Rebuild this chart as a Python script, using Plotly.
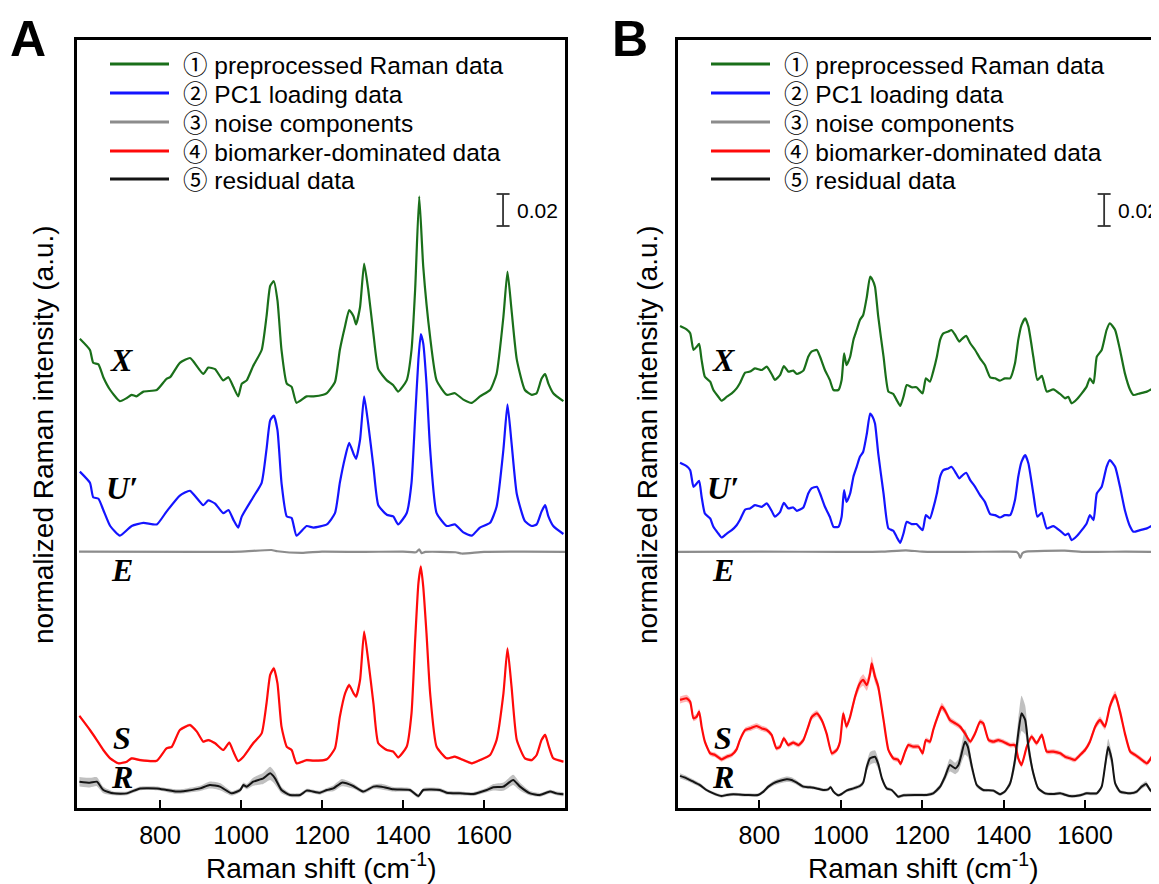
import numpy as np
import plotly.graph_objects as go

# ---------------- Panel A data ----------------
wn_X_A = [602,627,635,648,660,677,701,718,730,742,759,792,816,825,849,874,882,907,919,936,
          956,969,981,993,1002,1014,1030,1051,1063,1072,1081,1090,1100,1113,1125,1137,1162,1179,1203,1212,
          1232,1244,1257,1267,1278,1284,1294,1304,1314,1327,1339,1360,1376,1388,1409,1421,1430,1440,1450,1467,
          1483,1508,1528,1549,1570,1590,1615,1631,1648,1658,1668,1681,1701,1718,1730,1742,1751,1759,1771,1796]
X_A = [0.292,0.285,0.277,0.276,0.268,0.260,0.253,0.255,0.257,0.256,0.259,0.260,0.267,0.268,0.277,0.280,0.278,0.270,0.274,0.273,
       0.266,0.268,0.262,0.256,0.264,0.266,0.275,0.285,0.306,0.325,0.328,0.316,0.285,0.264,0.262,0.252,0.256,0.256,0.257,0.258,
       0.265,0.285,0.300,0.310,0.306,0.301,0.312,0.339,0.323,0.295,0.273,0.266,0.263,0.259,0.266,0.285,0.323,0.381,0.337,0.293,
       0.266,0.257,0.258,0.254,0.252,0.256,0.260,0.270,0.306,0.334,0.310,0.279,0.260,0.257,0.258,0.267,0.270,0.264,0.258,0.253]

wn_U_A = [602,627,635,648,660,677,701,730,759,792,816,849,874,907,919,936,956,969,981,993,
          1002,1030,1051,1063,1072,1081,1090,1100,1113,1125,1137,1162,1179,1212,1232,1244,1257,1267,1278,1284,
          1294,1304,1314,1327,1339,1360,1376,1388,1409,1421,1430,1438,1444,1450,1458,1467,1483,1508,1528,1549,
          1570,1590,1615,1631,1648,1658,1668,1681,1701,1718,1730,1742,1751,1759,1771,1796]
U_A = [0.209,0.202,0.193,0.192,0.185,0.175,0.169,0.175,0.177,0.176,0.184,0.194,0.197,0.188,0.191,0.189,0.183,0.185,0.179,0.174,
       0.181,0.193,0.202,0.223,0.241,0.244,0.235,0.202,0.181,0.180,0.169,0.175,0.174,0.176,0.183,0.202,0.218,0.227,0.220,0.217,
       0.229,0.256,0.239,0.212,0.188,0.182,0.181,0.176,0.183,0.202,0.243,0.279,0.295,0.289,0.264,0.223,0.183,0.175,0.176,0.171,
       0.169,0.174,0.177,0.187,0.223,0.251,0.227,0.195,0.178,0.175,0.176,0.184,0.188,0.181,0.175,0.170]

wn_E_A = [600,900,1000,1075,1090,1150,1200,1300,1400,1432,1440,1446,1455,1530,1545,1600,1700,1800]
E_A = [0.1590,0.1588,0.1590,0.1600,0.1592,0.1582,0.1590,0.1588,0.1590,0.1586,0.1604,0.1580,0.1588,0.1586,0.1578,0.1588,0.1590,0.1588]

wn_S_A = [601,627,644,660,677,697,718,730,751,792,816,829,849,874,891,907,919,936,956,971,
          981,993,1006,1030,1051,1063,1072,1081,1090,1100,1113,1125,1137,1162,1179,1212,1232,1244,1257,1267,
          1278,1284,1294,1304,1314,1327,1339,1360,1376,1388,1409,1421,1430,1438,1444,1450,1458,1467,1483,1508,
          1528,1549,1570,1590,1615,1631,1648,1658,1668,1681,1701,1718,1730,1742,1751,1759,1771,1796]
S_A = [0.0563,0.0475,0.0412,0.0350,0.0298,0.0267,0.0277,0.0298,0.0287,0.0283,0.0360,0.0370,0.0475,0.0506,0.0465,0.0402,0.0412,0.0392,0.0350,0.0396,
       0.0340,0.0281,0.0308,0.0392,0.0454,0.0642,0.0819,0.0860,0.0767,0.0496,0.0370,0.0350,0.0267,0.0287,0.0283,0.0292,0.0360,0.0558,0.0704,0.0756,
       0.0704,0.0683,0.0788,0.1090,0.0913,0.0642,0.0392,0.0350,0.0340,0.0304,0.0370,0.0579,0.1038,0.1392,0.1496,0.1370,0.1079,0.0704,0.0370,0.0298,
       0.0308,0.0287,0.0267,0.0287,0.0319,0.0412,0.0704,0.0985,0.0746,0.0412,0.0298,0.0287,0.0319,0.0412,0.0444,0.0381,0.0298,0.0277]
S_A_sd = [0.0010,0.0009,0.0009,0.0008,0.0008,0.0008,0.0008,0.0008,0.0008,0.0008,0.0008,0.0008,0.0009,0.0009,0.0009,0.0008,0.0008,0.0008,0.0008,0.0008,
          0.0008,0.0008,0.0008,0.0009,0.0010,0.0012,0.0014,0.0014,0.0013,0.0010,0.0008,0.0008,0.0008,0.0008,0.0008,0.0008,0.0008,0.0010,0.0011,0.0012,
          0.0011,0.0011,0.0012,0.0014,0.0013,0.0010,0.0008,0.0008,0.0008,0.0008,0.0008,0.0010,0.0013,0.0015,0.0016,0.0015,0.0013,0.0010,0.0008,0.0008,
          0.0008,0.0008,0.0008,0.0008,0.0008,0.0009,0.0011,0.0013,0.0011,0.0009,0.0008,0.0008,0.0008,0.0009,0.0009,0.0008,0.0008,0.0008]

wn_R_A = [601,627,644,660,685,718,751,792,816,841,866,899,923,948,977,998,1006,1014,1030,1055,
          1072,1084,1100,1121,1146,1162,1195,1212,1228,1249,1277,1302,1327,1347,1376,1417,1438,1450,1491,1508,
          1541,1574,1607,1623,1648,1672,1689,1714,1738,1763,1779,1796]
R_A = [0.0152,0.0146,0.0152,0.0100,0.0079,0.0079,0.0110,0.0110,0.0100,0.0090,0.0096,0.0110,0.0131,0.0121,0.0079,0.0100,0.0131,0.0121,0.0152,0.0173,
       0.0204,0.0173,0.0100,0.0069,0.0069,0.0096,0.0083,0.0100,0.0110,0.0146,0.0125,0.0090,0.0121,0.0121,0.0104,0.0100,0.0062,0.0100,0.0100,0.0083,
       0.0079,0.0075,0.0100,0.0117,0.0121,0.0163,0.0121,0.0079,0.0069,0.0090,0.0079,0.0073]
R_A_sd = [0.0030,0.0030,0.0028,0.0020,0.0012,0.0012,0.0012,0.0012,0.0012,0.0014,0.0014,0.0016,0.0022,0.0022,0.0014,0.0014,0.0016,0.0016,0.0025,0.0035,
          0.0042,0.0038,0.0020,0.0012,0.0012,0.0012,0.0012,0.0012,0.0018,0.0022,0.0016,0.0012,0.0014,0.0018,0.0014,0.0012,0.0012,0.0012,0.0012,0.0012,
          0.0012,0.0012,0.0014,0.0020,0.0026,0.0032,0.0024,0.0014,0.0012,0.0012,0.0012,0.0012]

# ---------------- Panel B data ----------------
wn_X_B = [605,621,630,638,646,652,658,666,679,687,699,707,720,732,744,752,765,777,789,806,
          818,830,838,851,860,871,883,892,908,920,928,941,949,961,973,982,994,1002,1008,1014,
          1023,1031,1039,1047,1055,1064,1072,1078,1084,1092,1105,1117,1129,1137,1146,1154,1162,1174,1186,1201,
          1209,1219,1227,1236,1244,1252,1264,1272,1281,1291,1297,1308,1318,1330,1342,1354,1367,1379,1391,1403,
          1416,1428,1436,1444,1453,1461,1473,1483,1494,1506,1522,1539,1551,1559,1567,1580,1592,1604,1612,1621,
          1629,1641,1653,1661,1674,1686,1698,1711,1719,1735,1752,1768,1780]
X_B = [0.3000,0.2979,0.2954,0.2850,0.2871,0.2888,0.2788,0.2683,0.2652,0.2600,0.2558,0.2533,0.2558,0.2579,0.2610,0.2642,0.2708,0.2715,0.2735,0.2725,
       0.2746,0.2700,0.2663,0.2694,0.2750,0.2715,0.2721,0.2700,0.2721,0.2808,0.2840,0.2850,0.2808,0.2725,0.2663,0.2600,0.2600,0.2663,0.2829,0.2756,
       0.2808,0.2913,0.2975,0.3038,0.3069,0.3183,0.3308,0.3288,0.3246,0.3058,0.2808,0.2590,0.2575,0.2538,0.2500,0.2558,0.2631,0.2617,0.2617,0.2579,
       0.2673,0.2652,0.2715,0.2808,0.2913,0.2954,0.2965,0.2975,0.2944,0.2902,0.2917,0.2938,0.2892,0.2850,0.2798,0.2756,0.2679,0.2673,0.2658,0.2673,
       0.2673,0.2767,0.2913,0.3006,0.3048,0.2996,0.2808,0.2663,0.2688,0.2590,0.2604,0.2575,0.2548,0.2558,0.2517,0.2542,0.2579,0.2621,0.2673,0.2642,
       0.2808,0.2850,0.2975,0.3017,0.2975,0.2850,0.2704,0.2600,0.2569,0.2579,0.2590,0.2610,0.2600]

wn_U_B = wn_X_B
U_B = [0.2145,0.2124,0.2099,0.1995,0.2016,0.2033,0.1933,0.1828,0.1797,0.1745,0.1703,0.1678,0.1703,0.1724,0.1755,0.1787,0.1853,0.1860,0.1880,0.1870,
       0.1891,0.1845,0.1808,0.1839,0.1895,0.1860,0.1866,0.1845,0.1866,0.1953,0.1985,0.1995,0.1953,0.1870,0.1808,0.1745,0.1745,0.1808,0.1974,0.1901,
       0.1953,0.2058,0.2120,0.2183,0.2214,0.2328,0.2453,0.2433,0.2391,0.2203,0.1953,0.1735,0.1720,0.1683,0.1645,0.1703,0.1776,0.1762,0.1762,0.1724,
       0.1818,0.1797,0.1860,0.1953,0.2058,0.2099,0.2110,0.2120,0.2089,0.2047,0.2062,0.2083,0.2037,0.1995,0.1943,0.1901,0.1824,0.1818,0.1803,0.1818,
       0.1818,0.1912,0.2058,0.2151,0.2193,0.2141,0.1953,0.1808,0.1833,0.1735,0.1749,0.1720,0.1693,0.1703,0.1662,0.1687,0.1724,0.1766,0.1818,0.1787,
       0.1953,0.1995,0.2120,0.2162,0.2120,0.1995,0.1849,0.1745,0.1714,0.1724,0.1735,0.1755,0.1745]

wn_E_B = [600,800,1000,1100,1160,1200,1300,1400,1432,1437,1441,1446,1455,1550,1600,1700,1785]
E_B = [0.1588,0.1590,0.1588,0.1590,0.1598,0.1590,0.1588,0.1590,0.1588,0.1575,0.1550,0.1580,0.1590,0.1596,0.1588,0.1590,0.1588]

wn_S_B = [605,621,630,638,646,652,658,666,679,691,707,720,732,744,752,765,777,793,806,818,
          830,842,851,860,871,883,896,908,920,928,941,953,965,978,990,998,1006,1014,1023,1035,
          1047,1055,1064,1072,1076,1084,1092,1105,1117,1129,1141,1147,1158,1166,1178,1191,1201,1209,1219,1227,
          1238,1248,1256,1268,1281,1293,1305,1318,1330,1342,1350,1363,1375,1387,1399,1416,1428,1436,1444,1457,
          1469,1481,1494,1506,1522,1539,1551,1563,1575,1588,1600,1612,1625,1637,1649,1661,1674,1686,1698,1711,
          1723,1735,1752,1764,1772,1780]
S_B = [0.0663,0.0673,0.0652,0.0548,0.0558,0.0590,0.0496,0.0402,0.0329,0.0319,0.0292,0.0308,0.0319,0.0354,0.0412,0.0475,0.0485,0.0500,0.0485,0.0475,
       0.0444,0.0360,0.0371,0.0423,0.0381,0.0396,0.0381,0.0412,0.0496,0.0554,0.0579,0.0538,0.0454,0.0329,0.0350,0.0402,0.0579,0.0496,0.0558,0.0683,
       0.0767,0.0788,0.0756,0.0829,0.0892,0.0808,0.0746,0.0538,0.0350,0.0298,0.0288,0.0263,0.0340,0.0381,0.0371,0.0371,0.0329,0.0412,0.0402,0.0475,
       0.0558,0.0621,0.0596,0.0538,0.0517,0.0496,0.0454,0.0402,0.0454,0.0527,0.0517,0.0412,0.0402,0.0412,0.0402,0.0381,0.0381,0.0298,0.0256,0.0371,
       0.0433,0.0392,0.0444,0.0340,0.0340,0.0329,0.0308,0.0298,0.0288,0.0319,0.0350,0.0402,0.0496,0.0538,0.0496,0.0621,0.0694,0.0590,0.0454,0.0340,
       0.0319,0.0298,0.0267,0.0308,0.0371,0.0340]
S_B_sd = [0.0022,0.0022,0.0020,0.0018,0.0018,0.0018,0.0016,0.0015,0.0015,0.0015,0.0015,0.0015,0.0015,0.0015,0.0015,0.0016,0.0017,0.0017,0.0017,0.0016,
          0.0015,0.0015,0.0015,0.0015,0.0015,0.0015,0.0015,0.0016,0.0018,0.0019,0.0020,0.0018,0.0016,0.0015,0.0015,0.0016,0.0020,0.0018,0.0020,0.0026,
          0.0032,0.0036,0.0036,0.0040,0.0042,0.0038,0.0032,0.0020,0.0016,0.0015,0.0015,0.0015,0.0015,0.0016,0.0015,0.0015,0.0015,0.0016,0.0016,0.0018,
          0.0020,0.0024,0.0022,0.0020,0.0018,0.0017,0.0016,0.0015,0.0016,0.0017,0.0017,0.0015,0.0015,0.0015,0.0015,0.0015,0.0015,0.0016,0.0016,0.0016,
          0.0017,0.0016,0.0016,0.0015,0.0015,0.0015,0.0015,0.0015,0.0015,0.0015,0.0016,0.0017,0.0020,0.0022,0.0020,0.0024,0.0026,0.0022,0.0018,0.0015,
          0.0015,0.0015,0.0015,0.0016,0.0017,0.0016]

wn_R_B = [605,621,638,654,670,687,707,720,736,769,797,810,822,834,851,867,879,892,908,924,
          941,957,969,975,982,994,1002,1014,1031,1047,1055,1064,1072,1084,1092,1101,1113,1125,1133,1141,
          1154,1186,1211,1227,1244,1256,1268,1281,1289,1297,1305,1312,1322,1334,1350,1375,1391,1403,1416,1428,
          1436,1444,1453,1461,1473,1485,1502,1522,1539,1563,1588,1604,1629,1641,1649,1657,1666,1674,1686,1711,
          1727,1739,1750,1760,1772,1780]
R_B = [0.0188,0.0173,0.0152,0.0131,0.0100,0.0079,0.0062,0.0069,0.0073,0.0069,0.0069,0.0090,0.0121,0.0142,0.0158,0.0167,0.0163,0.0146,0.0121,0.0117,
       0.0110,0.0100,0.0104,0.0117,0.0090,0.0067,0.0075,0.0096,0.0110,0.0125,0.0146,0.0246,0.0298,0.0308,0.0263,0.0173,0.0110,0.0100,0.0079,0.0058,
       0.0067,0.0069,0.0069,0.0079,0.0121,0.0183,0.0256,0.0235,0.0256,0.0329,0.0402,0.0371,0.0246,0.0131,0.0100,0.0096,0.0073,0.0090,0.0142,0.0288,
       0.0454,0.0579,0.0538,0.0371,0.0204,0.0110,0.0079,0.0075,0.0079,0.0062,0.0067,0.0079,0.0079,0.0121,0.0246,0.0371,0.0288,0.0142,0.0090,0.0079,
       0.0090,0.0121,0.0138,0.0100,0.0079,0.0075]
R_B_sd = [0.0016,0.0015,0.0014,0.0012,0.0010,0.0010,0.0010,0.0010,0.0010,0.0010,0.0010,0.0011,0.0013,0.0015,0.0016,0.0017,0.0016,0.0014,0.0012,0.0011,
          0.0010,0.0010,0.0010,0.0011,0.0010,0.0010,0.0010,0.0010,0.0011,0.0012,0.0016,0.0030,0.0040,0.0040,0.0032,0.0018,0.0012,0.0010,0.0010,0.0010,
          0.0010,0.0010,0.0010,0.0011,0.0016,0.0025,0.0040,0.0036,0.0040,0.0055,0.0080,0.0065,0.0035,0.0015,0.0010,0.0010,0.0010,0.0010,0.0020,0.0050,
          0.0090,0.0110,0.0090,0.0055,0.0025,0.0012,0.0010,0.0010,0.0010,0.0010,0.0010,0.0010,0.0010,0.0015,0.0035,0.0050,0.0040,0.0020,0.0012,0.0010,
          0.0012,0.0015,0.0016,0.0012,0.0010,0.0010]

legend_labels = ["\u2460 preprocessed Raman data", "\u2461 PC1 loading data", "\u2462 noise components",
                 "\u2463 biomarker-dominated data", "\u2464 residual data"]
curve_labels = ["X", "U\u2032", "E", "S", "R"]
tick_vals = [800, 1000, 1200, 1400, 1600]

GREEN, BLUE, GRAY, RED, BLACK = "#1a6f1a", "#1414ff", "#8c8c8c", "#ff0a0a", "#141414"
colors = [GREEN, BLUE, GRAY, RED, BLACK]

# page body has an 8px margin: figure occupies screen px 8..1159 / 8..884
OFF = 8
W, H = 1159 - OFF, 884 - OFF
def px(x):
    return (x - OFF) / W
def py(y):
    return 1 - (y - OFF) / H

fig = go.Figure()

def band(xs, ys, sd, color, xa, ya):
    xs = np.asarray(xs, float); ys = np.asarray(ys, float); sd = np.asarray(sd, float)
    fig.add_trace(go.Scatter(x=np.concatenate([xs, xs[::-1]]),
                             y=np.concatenate([ys + sd, (ys - sd)[::-1]]),
                             fill="toself", fillcolor=color, line=dict(width=0, shape="spline", smoothing=0.5),
                             mode="lines", hoverinfo="skip", showlegend=False, xaxis=xa, yaxis=ya))

def line(xs, ys, color, xa, ya, w=2.2):
    fig.add_trace(go.Scatter(x=xs, y=ys, mode="lines",
                             line=dict(color=color, width=w, shape="spline", smoothing=0.5),
                             showlegend=False, xaxis=xa, yaxis=ya))

# Panel A
band(wn_S_A, S_A, S_A_sd, "rgba(255,120,120,0.55)", "x", "y")
band(wn_R_A, R_A, R_A_sd, "rgba(140,140,140,0.55)", "x", "y")
line(wn_X_A, X_A, GREEN, "x", "y")
line(wn_U_A, U_A, BLUE, "x", "y")
line(wn_E_A, E_A, GRAY, "x", "y")
line(wn_S_A, S_A, RED, "x", "y")
line(wn_R_A, R_A, BLACK, "x", "y", 2.0)
# Panel B
band(wn_S_B, S_B, S_B_sd, "rgba(255,120,120,0.55)", "x2", "y2")
band(wn_R_B, R_B, R_B_sd, "rgba(140,140,140,0.55)", "x2", "y2")
line(wn_X_B, X_B, GREEN, "x2", "y2")
line(wn_U_B, U_B, BLUE, "x2", "y2")
line(wn_E_B, E_B, GRAY, "x2", "y2")
line(wn_S_B, S_B, RED, "x2", "y2")
line(wn_R_B, R_B, BLACK, "x2", "y2", 2.0)

font_sans = "Liberation Sans, Arial, Noto Sans CJK SC, sans-serif"
xcommon = dict(tickvals=tick_vals, ticks="inside", ticklen=8, tickwidth=2, tickcolor="black",
               showline=True, linecolor="black", linewidth=2.5, mirror=True,
               showgrid=False, zeroline=False, ticklabelstandoff=3,
               tickfont=dict(family=font_sans, size=25, color="black"))
ycommon = dict(showticklabels=False, ticks="", showline=True, linecolor="black", linewidth=2.5,
               showgrid=False, zeroline=False, range=[-0.00125, 0.47875],
               domain=[py(808), py(40)])

fig.update_layout(
    width=W, height=H, margin=dict(l=0, r=0, t=0, b=0),
    paper_bgcolor="white", plot_bgcolor="white", showlegend=False,
    xaxis=dict(domain=[px(77), px(565)], range=[595, 1800], anchor="y", **xcommon),
    yaxis=dict(anchor="x", mirror=True, **ycommon),
    xaxis2=dict(domain=[px(678), 1.0], range=[600, 1781.8], anchor="y2", **xcommon),
    yaxis2=dict(anchor="x2", mirror=False, **ycommon),
)

ann = []
shapes = []
# panel letters
for letter, cx in [("A", 28), ("B", 630)]:
    ann.append(dict(text="<b>%s</b>" % letter, x=px(cx), y=py(39), xref="paper", yref="paper",
                    showarrow=False, xanchor="center", yanchor="middle",
                    font=dict(family="Liberation Sans, Arial", size=50, color="black")))
# axis titles
for cx in [321, 923]:
    ann.append(dict(text="Raman shift (cm<sup>-1</sup>)", x=px(cx), y=py(866), xref="paper", yref="paper",
                    showarrow=False, xanchor="center", yanchor="middle",
                    font=dict(family=font_sans, size=28, color="black")))
for cx in [43, 647]:
    ann.append(dict(text="normalized Raman intensity (a.u.)", x=px(cx), y=py(435), xref="paper", yref="paper",
                    showarrow=False, xanchor="center", yanchor="middle", textangle=-90,
                    font=dict(family=font_sans, size=28, color="black")))
# legends
rows = [64, 93, 122, 151, 179]
for left in [77, 678]:
    for lab, col, ry in zip(legend_labels, colors, rows):
        shapes.append(dict(type="line", xref="paper", yref="paper",
                           x0=px(left + 33), x1=px(left + 92), y0=py(ry), y1=py(ry),
                           line=dict(color=col, width=3)))
        ann.append(dict(text=lab, x=px(left + 104), y=py(ry + 1), xref="paper", yref="paper",
                        showarrow=False, xanchor="left", yanchor="middle",
                        font=dict(family=font_sans, size=24.5, color="black")))
# scale bars (0.02 a.u.)
for xa, ya in [("x", "y"), ("x2", "y2")]:
    y0, y1 = 0.3625, 0.3825
    shapes.append(dict(type="line", xref=xa, yref=ya, x0=1647, x1=1647, y0=y0, y1=y1,
                       line=dict(color="#333333", width=1.8)))
    for yy in (y0, y1):
        shapes.append(dict(type="line", xref=xa, yref=ya, x0=1631, x1=1663, y0=yy, y1=yy,
                           line=dict(color="#333333", width=1.8)))
    ann.append(dict(text="0.02", x=1677, y=0.3725, xref=xa, yref=ya, showarrow=False,
                    xanchor="left", yanchor="middle",
                    font=dict(family=font_sans, size=21, color="black")))
# curve labels
label_y = [0.279, 0.199, 0.1475, 0.0425, 0.018]
for xa, ya, lx in [("x", "y", 706), ("x2", "y2", 711)]:
    for lab, ly in zip(curve_labels, label_y):
        ann.append(dict(text="<b><i>%s</i></b>" % lab, x=lx, y=ly, xref=xa, yref=ya, showarrow=False,
                        xanchor="center", yanchor="middle",
                        font=dict(family="Liberation Serif, Times New Roman, serif", size=32, color="black")))

fig.update_layout(annotations=ann, shapes=shapes)
fig.write_html("out.html")
